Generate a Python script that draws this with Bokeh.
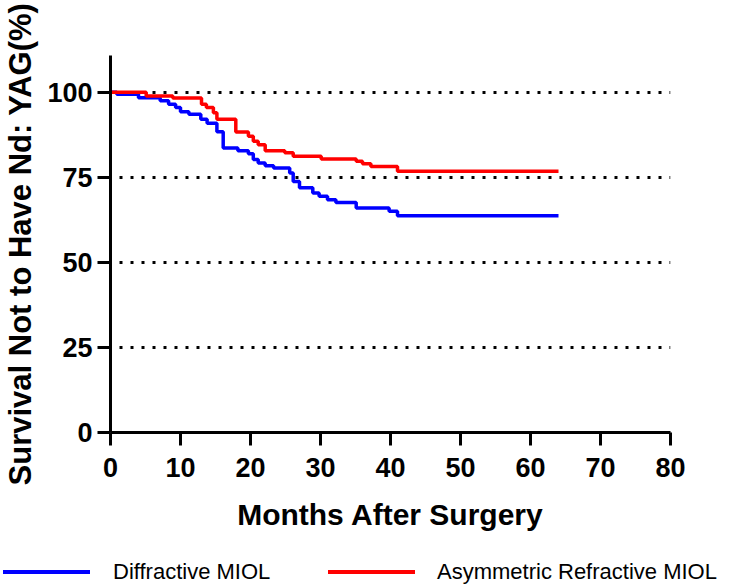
from bokeh.plotting import figure
from bokeh.models import Range1d, FixedTicker, Div
from bokeh.layouts import column
from bokeh.embed import file_html
from bokeh.resources import INLINE

# Kaplan-Meier style survival data (months, survival %)
diff_months = [0, 0.9, 4.0, 7.1, 8.3, 9.3, 10.0, 11.2, 12.9, 13.8, 15.2, 16.1, 18.2, 19.7,
               20.4, 21.1, 22.1, 23.3, 25.6, 26.1, 27.0, 28.9, 29.8, 31.0, 32.2, 35.1,
               39.8, 41.0, 64.0]
diff_surv = [100, 99.4, 98.4, 97.5, 96.5, 95.5, 94.3, 93.5, 92.1, 90.9, 88.4, 83.6, 82.8, 81.9,
             80.2, 79.2, 78.4, 77.7, 76.3, 73.8, 71.9, 70.4, 69.4, 68.4, 67.6, 66.0,
             65.0, 63.7, 63.7]

asym_months = [0, 5.1, 8.9, 13.0, 13.7, 14.7, 15.2, 17.9, 19.7, 20.4, 21.1, 22.1, 24.9,
               26.1, 30.1, 35.1, 36.0, 37.2, 41.0, 64.0]
asym_surv = [100, 98.9, 98.3, 96.5, 95.5, 94.0, 92.1, 88.3, 87.1, 85.6, 84.6, 82.8, 82.2,
             81.2, 80.4, 79.7, 79.0, 78.2, 76.8, 76.8]

x_ticks = [0, 10, 20, 30, 40, 50, 60, 70, 80]
y_ticks = [0, 25, 50, 75, 100]
grid_levels = [25, 50, 75, 100]
series_names = ["Diffractive MIOL", "Asymmetric Refractive MIOL"]
series_colors = ["#0000FF", "#FF0000"]

FONT = "Liberation Sans"

p = figure(width=719, height=540, output_backend="svg", toolbar_location=None,
           x_range=Range1d(0, 80), y_range=Range1d(0, 110.8),
           min_border_left=108, min_border_right=49, min_border_top=55, min_border_bottom=108)
p.outline_line_color = None

r1 = p.step(diff_months, diff_surv, mode="after", line_width=3.5, line_color=series_colors[0])
r2 = p.step(asym_months, asym_surv, mode="after", line_width=3.5, line_color=series_colors[1])

p.xgrid.visible = False
p.ygrid.ticker = FixedTicker(ticks=grid_levels)
p.ygrid.grid_line_color = "black"
p.ygrid.grid_line_width = 3
p.ygrid.grid_line_dash = "3 8"
p.ygrid.grid_line_dash_offset = 2

for ax in (p.xaxis[0], p.yaxis[0]):
    ax.axis_line_width = 3
    ax.axis_line_color = "black"
    ax.major_tick_line_width = 3
    ax.major_tick_line_color = "black"
    ax.major_tick_out = 13
    ax.major_tick_in = 0
    ax.minor_tick_line_color = None
    ax.major_label_text_font = FONT
    ax.major_label_text_font_style = "bold"
    ax.major_label_text_font_size = "27px"
    ax.major_label_text_color = "black"
    ax.axis_label_text_font = FONT
    ax.axis_label_text_font_style = "bold"
    ax.axis_label_text_color = "black"

p.xaxis.axis_label_text_font_size = "30px"
p.yaxis.axis_label_text_font_size = "31px"
p.xaxis.ticker = FixedTicker(ticks=x_ticks)
p.yaxis.ticker = FixedTicker(ticks=y_ticks)
p.xaxis.major_label_standoff = 12
p.yaxis.major_label_standoff = 5
p.xaxis.axis_label = "Months After Surgery"
p.yaxis.axis_label = "Survival Not to Have Nd: YAG(%)"
p.xaxis.axis_label_standoff = 18
p.yaxis.axis_label_standoff = 6

# legend strip below the plot (swatch line + label for each series)
swatch_left = [3, 328]
text_left = [113, 437]
parts = []
for name, color, sl, tl in zip(series_names, series_colors, swatch_left, text_left):
    parts.append(f'<div style="position:absolute;left:{sl}px;top:30px;width:87px;height:4px;'
                 f'background:{color};"></div>')
    parts.append(f'<div style="position:absolute;left:{tl}px;top:19px;white-space:nowrap;'
                 f'line-height:26px;">{name}</div>')
html = ('<div style="position:relative;width:719px;height:44px;font-family:\'Liberation Sans\';'
        'font-size:22px;color:black;">' + "".join(parts) + '</div>')
legend_div = Div(text=html, width=719, height=44, margin=(0, 0, 0, 0))

layout = column(p, legend_div, spacing=0)
open("out.html", "w").write(file_html(layout, INLINE))
